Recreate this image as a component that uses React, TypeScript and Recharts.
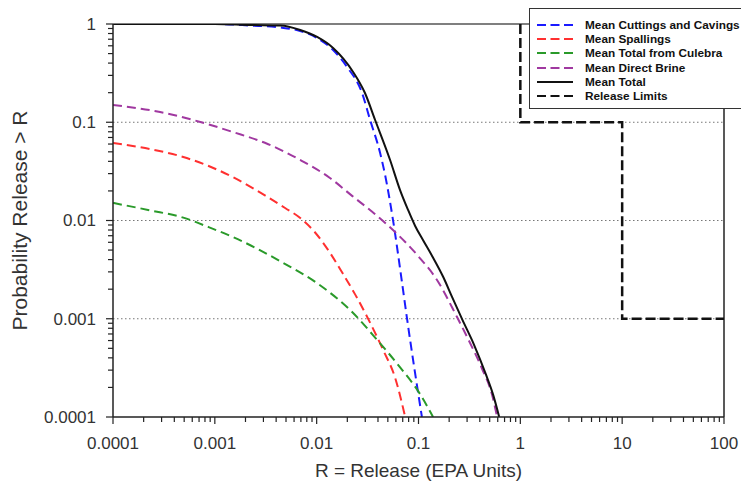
import React from "react";
import { LineChart, Line, XAxis, YAxis, ReferenceLine, Legend, Label } from "recharts";

// axis ticks
const X_MAJOR = [0.0001, 0.001, 0.01, 0.1, 1, 10, 100];
const X_LABELS = ["0.0001", "0.001", "0.01", "0.1", "1", "10", "100"];
const Y_MAJOR = [0.0001, 0.001, 0.01, 0.1, 1];
const Y_LABELS = ["0.0001", "0.001", "0.01", "0.1", "1"];
const MINOR_STEPS = [2, 3, 4, 5, 6, 7, 8, 9];

// Mean Cuttings and Cavings
const cuttingsX = [0.0001, 0.001, 0.0022, 0.0044, 0.0069, 0.0101, 0.0145, 0.0199, 0.0279, 0.0335, 0.042, 0.047, 0.0562, 0.069, 0.0773, 0.108];
const cuttingsY = [1, 1, 0.965, 0.921, 0.849, 0.72, 0.544, 0.365, 0.1985, 0.1054, 0.0486, 0.029, 0.0101, 0.00231, 0.00099, 0.0001];

// Mean Spallings
const spallingsX = [0.0001, 0.00023, 0.00049, 0.0015, 0.0033, 0.0049, 0.0069, 0.0097, 0.0135, 0.018, 0.024, 0.032, 0.045, 0.059, 0.074];
const spallingsY = [0.0615, 0.0534, 0.0443, 0.0277, 0.0173, 0.0134, 0.0106, 0.0075, 0.0047, 0.0029, 0.00175, 0.001, 0.00048, 0.00025, 0.0001];

// Mean Total from Culebra
const culebraX = [0.0001, 0.00023, 0.00049, 0.00086, 0.0015, 0.0047, 0.0101, 0.0223, 0.0392, 0.066, 0.104, 0.139];
const culebraY = [0.0151, 0.0127, 0.0107, 0.0086, 0.0068, 0.0037, 0.0023, 0.00117, 0.00061, 0.00032, 0.00017, 0.0001];

// Mean Direct Brine
const brineX = [0.0001, 0.00029, 0.00072, 0.0015, 0.0033, 0.0069, 0.0135, 0.0223, 0.0375, 0.0617, 0.099, 0.152, 0.239, 0.321, 0.422, 0.528, 0.592];
const brineY = [0.15, 0.127, 0.1007, 0.0796, 0.0601, 0.0413, 0.0271, 0.0178, 0.0116, 0.0073, 0.00436, 0.00248, 0.00104, 0.000566, 0.000308, 0.000168, 0.0001];

// Mean Total
const totalX = [0.0001, 0.001, 0.0022, 0.0044, 0.0069, 0.0101, 0.0145, 0.0228, 0.0298, 0.0375, 0.0526, 0.0659, 0.079, 0.0927, 0.111, 0.136, 0.175, 0.214, 0.268, 0.352, 0.461, 0.541, 0.62];
const totalY = [1, 1, 0.977, 0.965, 0.869, 0.738, 0.57, 0.325, 0.1985, 0.1054, 0.0413, 0.0204, 0.0128, 0.0088, 0.0063, 0.00436, 0.00266, 0.00166, 0.00099, 0.00054, 0.000268, 0.000168, 0.0001];

// Release Limits
const limitsX = [1, 1, 10, 10, 100];
const limitsY = [1, 0.1, 0.1, 0.001, 0.001];

const FONT = "'Liberation Sans', Arial, sans-serif";

const zip = (xs: number[], ys: number[]) => xs.map((x, i) => ({ x, y: ys[i] }));

const buildTicks = (majors: number[]) => {
    const out: number[] = [];
    majors.forEach((m, i) => {
        out.push(m);
        if (i < majors.length - 1) MINOR_STEPS.forEach((s) => out.push(m * s));
    });
    return out;
};

const X_TICKS = buildTicks(X_MAJOR);
const Y_TICKS = buildTicks(Y_MAJOR);

const majorIndex = (v: number, majors: number[]) =>
    majors.findIndex((m) => Math.abs(v / m - 1) < 1e-6);

const SERIES = [
    { name: "Mean Cuttings and Cavings", data: zip(cuttingsX, cuttingsY), color: "#1a1aff", dash: "9 5", width: 2, type: "monotone" },
    { name: "Mean Spallings", data: zip(spallingsX, spallingsY), color: "#ff3030", dash: "9 5", width: 2, type: "monotone" },
    { name: "Mean Total from Culebra", data: zip(culebraX, culebraY), color: "#2a9a2a", dash: "9 5", width: 2, type: "monotone" },
    { name: "Mean Direct Brine", data: zip(brineX, brineY), color: "#a038a0", dash: "9 5", width: 2, type: "monotone" },
    { name: "Mean Total", data: zip(totalX, totalY), color: "#111111", dash: undefined, width: 2, type: "monotone" },
    { name: "Release Limits", data: zip(limitsX, limitsY), color: "#111111", dash: "10 4", width: 2.5, type: "linear" },
];

const XTick = (props: any) => {
    const { x, y, payload } = props;
    const i = majorIndex(payload.value, X_MAJOR);
    const major = i >= 0;
    return (
        <g>
            <line x1={x} x2={x} y1={y} y2={y + (major ? 7 : 5)} stroke="#222" strokeWidth={1.2} />
            {major && (
                <text x={x} y={y + 26} dy="0.35em" textAnchor="middle" fontSize={17} fill="#333" fontFamily={FONT}>
                    {X_LABELS[i]}
                </text>
            )}
        </g>
    );
};

const YTick = (props: any) => {
    const { x, y, payload } = props;
    const i = majorIndex(payload.value, Y_MAJOR);
    const major = i >= 0;
    return (
        <g>
            <line x1={x - (major ? 7 : 5)} x2={x} y1={y} y2={y} stroke="#222" strokeWidth={1.2} />
            {major && (
                <text x={x - 17} y={y} dy="0.35em" textAnchor="end" fontSize={17} fill="#333" fontFamily={FONT}>
                    {Y_LABELS[i]}
                </text>
            )}
        </g>
    );
};

const LegendBox = () => (
    <div
        style={{
            border: "1px solid #333",
            background: "#fff",
            width: 240,
            height: 101,
            boxSizing: "border-box",
            padding: "9px 0 0 7px",
            fontFamily: FONT,
            fontWeight: "bold",
            fontSize: 11.8,
            color: "#111",
        }}
    >
        {SERIES.map((s) => (
            <div key={s.name} style={{ display: "flex", alignItems: "center", height: 14.2 }}>
                <svg width={36} height={6}>
                    <line x1={0} y1={3} x2={36} y2={3} stroke={s.color} strokeWidth={2} strokeDasharray={s.dash ? "9 4.5" : undefined} />
                </svg>
                <span style={{ marginLeft: 12, whiteSpace: "nowrap" }}>{s.name}</span>
            </div>
        ))}
    </div>
);

export default function App() {
    return (
        <div style={{ position: "absolute", left: 0, top: 0, width: 741, height: 490, overflow: "hidden", background: "#fff" }}>
            <LineChart width={741} height={490} margin={{ top: 24, right: 17, left: 0, bottom: 0 }}>
                <XAxis
                    dataKey="x"
                    type="number"
                    scale="log"
                    domain={[0.0001, 100]}
                    allowDataOverflow
                    ticks={X_TICKS}
                    interval={0}
                    tickLine={false}
                    tickSize={0}
                    tickMargin={0}
                    height={73}
                    axisLine={{ stroke: "#222", strokeWidth: 1.5 }}
                    tick={(p: any) => <XTick {...p} />}
                >
                    <Label
                        content={({ viewBox }: any) => (
                            <text
                                x={viewBox.x + viewBox.width / 2}
                                y={470}
                                dy="0.35em"
                                textAnchor="middle"
                                fontSize={19}
                                fill="#333"
                                fontFamily={FONT}
                            >
                                R = Release (EPA Units)
                            </text>
                        )}
                    />
                </XAxis>
                <YAxis
                    dataKey="y"
                    type="number"
                    scale="log"
                    domain={[0.0001, 1]}
                    allowDataOverflow
                    ticks={Y_TICKS}
                    interval={0}
                    tickLine={false}
                    tickSize={0}
                    tickMargin={0}
                    width={113}
                    axisLine={{ stroke: "#222", strokeWidth: 1.5 }}
                    tick={(p: any) => <YTick {...p} />}
                >
                    <Label
                        content={({ viewBox }: any) => {
                            const cy = viewBox.y + viewBox.height / 2;
                            return (
                                <text
                                    x={20}
                                    y={cy}
                                    dy="0.35em"
                                    transform={`rotate(-90 20 ${cy})`}
                                    textAnchor="middle"
                                    fontSize={21}
                                    fill="#333"
                                    fontFamily={FONT}
                                >
                                    {"Probability Release > R"}
                                </text>
                            );
                        }}
                    />
                </YAxis>
                {[0.1, 0.01, 0.001].map((v) => (
                    <ReferenceLine key={v} y={v} stroke="#777" strokeDasharray="1.5 2.5" strokeWidth={1.2} />
                ))}
                <ReferenceLine y={1} stroke="#555" strokeWidth={1.5} />
                <ReferenceLine x={100} stroke="#222" strokeWidth={1.5} />
                {SERIES.map((s) => (
                    <Line
                        key={s.name}
                        data={s.data}
                        dataKey="y"
                        name={s.name}
                        type={s.type as any}
                        stroke={s.color}
                        strokeWidth={s.width}
                        strokeDasharray={s.dash}
                        dot={false}
                        activeDot={false}
                        isAnimationActive={false}
                    />
                ))}
                <Legend
                    layout="vertical"
                    align="center"
                    verticalAlign="middle"
                    wrapperStyle={{ left: 529, top: 8, width: 240 }}
                    content={() => <LegendBox />}
                />
            </LineChart>
        </div>
    );
}
